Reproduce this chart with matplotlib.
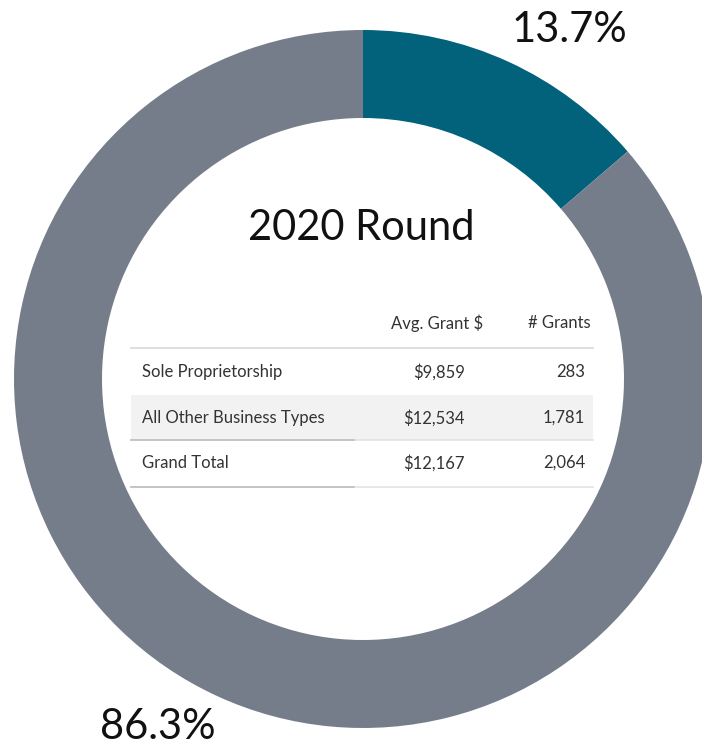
import matplotlib
matplotlib.use("Agg")
import matplotlib.pyplot as plt
from matplotlib.patches import Rectangle

# Data
segments = ["Sole Proprietorship", "All Other Business Types"]
shares = [13.7, 86.3]
share_labels = ["13.7%", "86.3%"]
colors = ["#03627B", "#767D8A"]

title = "2020 Round"
col_headers = ["Avg. Grant $", "# Grants"]
row_labels = ["Sole Proprietorship", "All Other Business Types", "Grand Total"]
avg_grant = ["$9,859", "$12,534", "$12,167"]
num_grants = ["283", "1,781", "2,064"]

W, H = 702, 749
fig = plt.figure(figsize=(W / 100, H / 100), dpi=100)
ax = fig.add_axes([0, 0, 1, 1])

cx, cy, R = 363, H - 379, 349
ax.pie(shares, colors=colors, startangle=90, counterclock=False,
       center=(cx, cy), radius=R, frame=True,
       wedgeprops=dict(width=88, linewidth=0))
ax.set_xlim(0, W)
ax.set_ylim(0, H)
ax.set_aspect("equal")
ax.axis("off")

fam = ["Lato", "DejaVu Sans"]
ax.text(569, H - 30, share_labels[0], fontsize=30, ha="center", va="center", family=fam, color="#111111")
ax.text(158, H - 727, share_labels[1], fontsize=30, ha="center", va="center", family=fam, color="#111111")
ax.text(361, H - 228, title, fontsize=30, ha="center", va="center", family=fam, color="#111111")

# Table
tc = "#333333"
fs = 12
ax.text(483, H - 323, col_headers[0], fontsize=fs, ha="right", va="center", family=fam, color=tc)
ax.text(591, H - 323, col_headers[1], fontsize=fs, ha="right", va="center", family=fam, color=tc)
x0, x1, xmid = 131, 593, 354
ax.add_patch(Rectangle((x0, H - 440), x1 - x0, 45, facecolor="#F2F2F2", edgecolor="none"))
ax.plot([x0, x1], [H - 348, H - 348], color="#D9D9D9", lw=1.2)
for yl in (440, 487):
    ax.plot([x0, x1], [H - yl, H - yl], color="#E3E3E3", lw=1.2)
    ax.plot([x0, xmid], [H - yl, H - yl], color="#BFBFBF", lw=1.2)
row_y = [372, 418, 463]
for lab, a, n, y in zip(row_labels, avg_grant, num_grants, row_y):
    ax.text(142, H - y, lab, fontsize=fs, ha="left", va="center", family=fam, color=tc)
    ax.text(465, H - y, a, fontsize=fs, ha="right", va="center", family=fam, color=tc)
    ax.text(585, H - y, n, fontsize=fs, ha="right", va="center", family=fam, color=tc)

fig.savefig("out.png", dpi=100, facecolor="white")
